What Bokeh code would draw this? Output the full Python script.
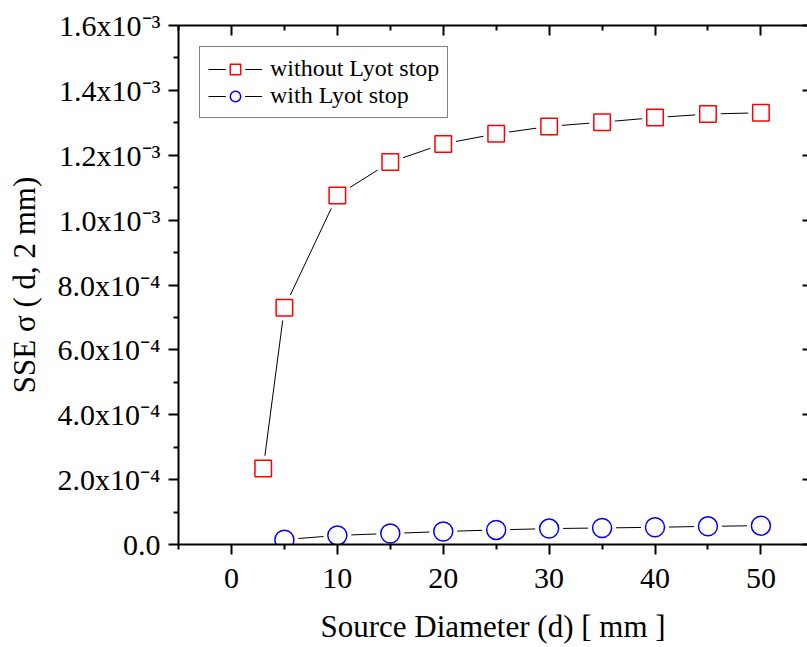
from bokeh.plotting import figure
from bokeh.models import (LinearAxis, FixedTicker, Range1d, Legend, LegendItem,
                          ColumnDataSource, CustomJSTickFormatter)
from bokeh.embed import file_html
from bokeh.resources import INLINE

# ---------------- data ----------------
diam_without = [3, 5, 10, 15, 20, 25, 30, 35, 40, 45, 50]
sse_without = [2.34e-4, 7.30e-4, 1.076e-3, 1.179e-3, 1.235e-3, 1.266e-3,
               1.289e-3, 1.302e-3, 1.316e-3, 1.327e-3, 1.331e-3]
diam_with = [5, 10, 15, 20, 25, 30, 35, 40, 45, 50]
sse_with = [1.5e-5, 2.8e-5, 3.4e-5, 4.0e-5, 4.5e-5, 4.9e-5, 5.1e-5, 5.3e-5, 5.6e-5, 5.8e-5]

x_ticks = [0, 10, 20, 30, 40, 50]
x_minor = [-5, 5, 15, 25, 35, 45, 55]
y_ticks = [0.0, 0.0002, 0.0004, 0.0006, 0.0008, 0.0010, 0.0012, 0.0014, 0.0016]
y_minor = [0.0001, 0.0003, 0.0005, 0.0007, 0.0009, 0.0011, 0.0013, 0.0015]
y_base = ["0.0", "2.0x10", "4.0x10", "6.0x10", "8.0x10", "1.0x10", "1.2x10", "1.4x10", "1.6x10"]
y_exp = ["", "-4", "-4", "-4", "-4", "-3", "-3", "-3", "-3"]

series_names = ["without Lyot stop", "with Lyot stop"]
x_title = "Source Diameter (d) [ mm ]"
y_title = "SSE \u03c3 ( d, 2 mm)"

x_min, x_max = -5, 54.4
y_min, y_max = 0.0, 0.0016

FONT = "Liberation Serif"
SUP = str.maketrans("-0123456789", "\u207b\u2070\u00b9\u00b2\u00b3\u2074\u2075\u2076\u2077\u2078\u2079")

WIDTH, HEIGHT = 807, 647
BL, BT, BB = 178, 25, 103

p = figure(width=WIDTH, height=HEIGHT, x_range=Range1d(x_min, x_max),
           y_range=Range1d(y_min, y_max), output_backend="svg",
           toolbar_location=None, min_border_left=BL, min_border_top=BT,
           min_border_bottom=BB, min_border_right=0)
p.outline_line_color = None
p.xgrid.visible = False
p.ygrid.visible = False
p.background_fill_color = "white"
p.border_fill_color = "white"

empty = CustomJSTickFormatter(code="return ''")


def style(ax):
    ax.axis_line_width = 2
    ax.axis_line_color = "black"
    ax.major_tick_line_width = 2
    ax.minor_tick_line_width = 2
    ax.major_tick_line_color = "black"
    ax.minor_tick_line_color = "black"


xa = p.xaxis[0]
xa.ticker = FixedTicker(ticks=x_ticks, minor_ticks=x_minor)
style(xa)
xa.major_tick_out = 10
xa.major_tick_in = 0
xa.minor_tick_out = 5
xa.minor_tick_in = 0
xa.major_label_text_font = FONT
xa.major_label_text_font_size = "30px"
xa.major_label_text_color = "black"
xa.major_label_standoff = 14
xa.axis_label = x_title
xa.axis_label_text_font = FONT
xa.axis_label_text_font_size = "31px"
xa.axis_label_text_font_style = "normal"
xa.axis_label_text_color = "black"
xa.axis_label_standoff = 18

ya = p.yaxis[0]
ya.ticker = FixedTicker(ticks=y_ticks, minor_ticks=y_minor)
style(ya)
ya.major_tick_out = 10
ya.major_tick_in = 0
ya.minor_tick_out = 5
ya.minor_tick_in = 0
ya.major_label_overrides = {t: b + e.translate(SUP) for t, b, e in zip(y_ticks, y_base, y_exp)}
ya.major_label_text_font = FONT
ya.major_label_text_font_size = "30px"
ya.major_label_text_color = "black"
ya.major_label_standoff = 8
ya.axis_label = y_title
ya.axis_label_text_font = FONT
ya.axis_label_text_font_size = "31px"
ya.axis_label_text_font_style = "normal"
ya.axis_label_text_color = "black"
ya.axis_label_standoff = 13

top = LinearAxis(ticker=FixedTicker(ticks=x_ticks, minor_ticks=x_minor), formatter=empty)
style(top)
top.major_tick_out = 0
top.major_tick_in = 10
top.minor_tick_out = 0
top.minor_tick_in = 5
top.major_label_standoff = 0
p.add_layout(top, "above")

right = LinearAxis(ticker=FixedTicker(ticks=y_ticks, minor_ticks=[]), formatter=empty)
style(right)
right.axis_line_color = None
right.major_tick_out = 0
right.major_tick_in = 5
right.minor_tick_out = 0
right.minor_tick_in = 0
right.major_label_standoff = 0
p.add_layout(right, "right")

# ---------------- glyphs ----------------
src_wo = ColumnDataSource(dict(x=diam_without, y=sse_without))
src_w = ColumnDataSource(dict(x=diam_with, y=sse_with))

l1 = p.line("x", "y", source=src_wo, line_color="black", line_width=1)
h1 = p.scatter("x", "y", source=src_wo, marker="square", size=16.5,
               fill_color="white", line_color="white", line_width=9)
m1 = p.scatter("x", "y", source=src_wo, marker="square", size=16.5,
               fill_color="white", line_color="#ff0000", line_width=1.5)

l2 = p.line("x", "y", source=src_w, line_color="black", line_width=1)
h2 = p.scatter("x", "y", source=src_w, marker="circle", size=19,
               fill_color="white", line_color="white", line_width=9)
m2 = p.scatter("x", "y", source=src_w, marker="circle", size=19,
               fill_color="white", line_color="#0000ff", line_width=1.5)

legend = Legend(items=[LegendItem(label=series_names[0], renderers=[l1, h1, m1]),
                       LegendItem(label=series_names[1], renderers=[l2, h2, m2])],
                location="top_left", margin=21, padding=8, spacing=0,
                glyph_width=54, glyph_height=26, label_height=26, label_standoff=8,
                label_text_font=FONT, label_text_font_size="24px",
                label_text_color="black",
                border_line_color="black", border_line_width=1,
                background_fill_color="white", background_fill_alpha=1)
p.add_layout(legend)

open("out.html", "w").write(file_html(p, INLINE))
